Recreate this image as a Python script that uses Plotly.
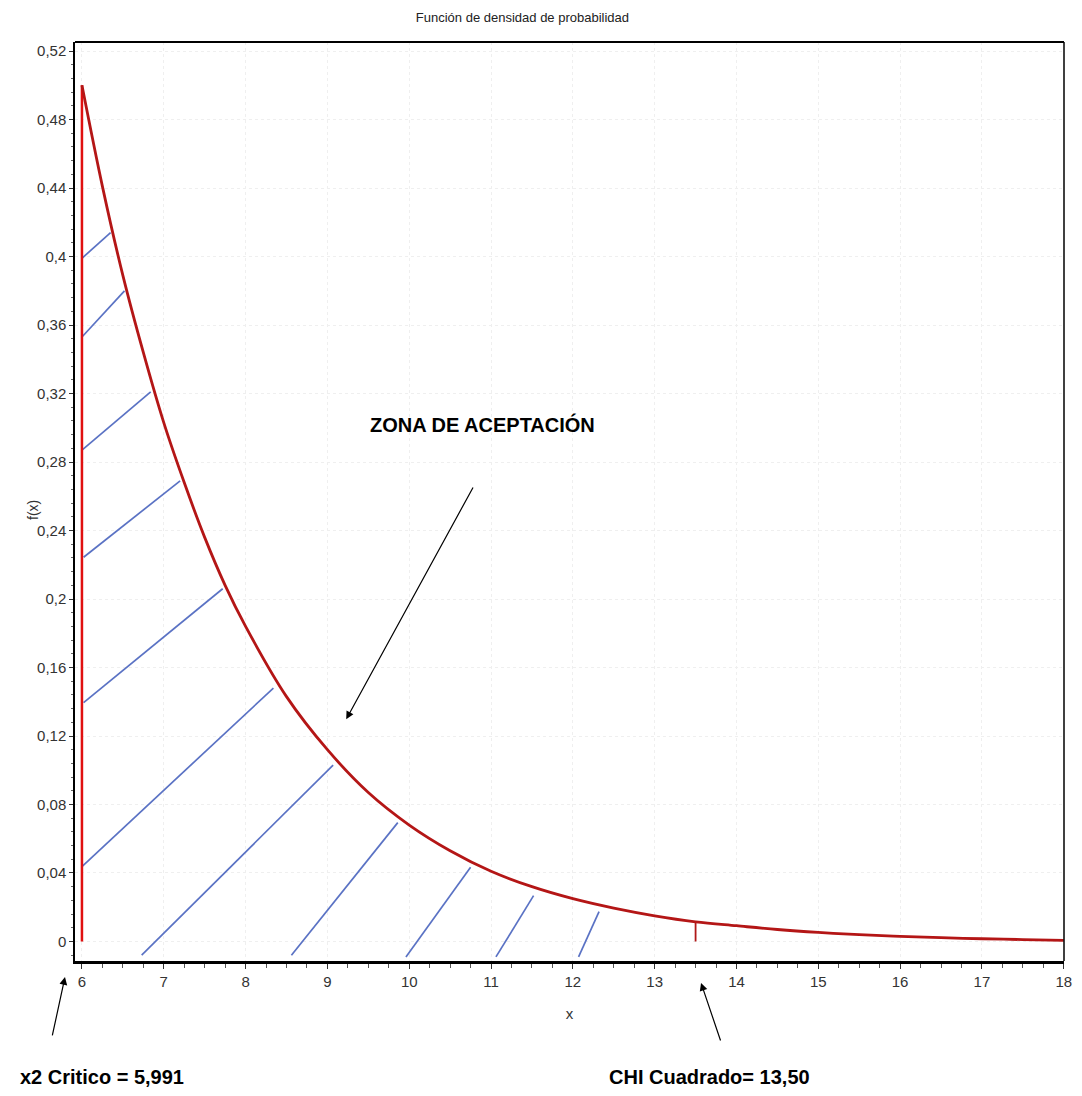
import plotly.graph_objects as go

# Density curve values
curve_x = [6.0, 6.25, 6.5, 6.75, 7.0, 7.25, 7.5, 7.75, 8.0, 8.5, 9.0, 9.5, 10.0, 10.5,
           11.0, 11.5, 12.0, 12.5, 13.0, 13.5, 14.0, 14.5, 15.0, 15.5, 16.0, 16.5,
           17.0, 17.5, 18.0]
curve_y = [0.500, 0.441, 0.389, 0.344, 0.303, 0.268, 0.236, 0.208, 0.184, 0.143, 0.112,
           0.087, 0.068, 0.053, 0.041, 0.032, 0.025, 0.0195, 0.0150, 0.0115, 0.0092,
           0.0070, 0.0053, 0.0040, 0.0030, 0.0022, 0.0016, 0.0011, 0.0007]

# Hatch segments (start -> end)
hatch_x0 = [6.0, 6.0, 6.0, 6.02, 6.02, 6.0, 6.73, 8.56, 9.96, 11.06, 12.07]
hatch_y0 = [0.399, 0.353, 0.287, 0.2244, 0.1395, 0.0437, -0.008, -0.008, -0.009, -0.009, -0.009]
hatch_x1 = [6.35, 6.52, 6.84, 7.20, 7.72, 8.34, 9.07, 9.86, 10.75, 11.52, 12.32]
hatch_y1 = [0.414, 0.380, 0.321, 0.269, 0.206, 0.148, 0.103, 0.0694, 0.0433, 0.0268, 0.0174]

# Critical value line and observed statistic marker
crit_x = [6.0, 6.0]
crit_y = [0.0, 0.500]
stat_x = [13.5, 13.5]
stat_y = [0.0, 0.0115]

y_ticks = [0, 0.04, 0.08, 0.12, 0.16, 0.2, 0.24, 0.28, 0.32, 0.36, 0.4, 0.44, 0.48, 0.52]
y_ticklabels = ["0", "0,04", "0,08", "0,12", "0,16", "0,2", "0,24", "0,28", "0,32",
                "0,36", "0,4", "0,44", "0,48", "0,52"]
x_ticks = list(range(6, 19))
x_ticklabels = [str(v) for v in x_ticks]

FONT = "Liberation Sans Narrow, Arial Narrow, Liberation Sans, Arial, sans-serif"

hx, hy = [], []
for a, b, c, d in zip(hatch_x0, hatch_y0, hatch_x1, hatch_y1):
    hx += [a, c, None]
    hy += [b, d, None]

fig = go.Figure()
fig.add_trace(go.Scatter(x=hx, y=hy, mode="lines",
                         line=dict(color="#5a72c4", width=1.7), hoverinfo="skip"))
fig.add_trace(go.Scatter(x=crit_x, y=crit_y, mode="lines",
                         line=dict(color="#e01010", width=2.5)))
fig.add_trace(go.Scatter(x=stat_x, y=stat_y, mode="lines",
                         line=dict(color="#b01818", width=1.8)))
fig.add_trace(go.Scatter(x=curve_x, y=curve_y, mode="lines", line_shape="spline",
                         line=dict(color="#b41616", width=2.8)))

fig.update_layout(
    width=1074, height=1080,
    margin=dict(l=67, r=10, t=34, b=127),
    paper_bgcolor="white", plot_bgcolor="white",
    showlegend=False,
    font=dict(family=FONT, color="#222222", size=14),
    title=dict(text="Función de densidad de probabilidad", x=0.479, xanchor="center",
               y=0.9917, yanchor="middle", font=dict(family=FONT, size=13, color="#222")),
)

fig.update_xaxes(
    range=[5.915, 18.003],
    tickvals=x_ticks, ticktext=x_ticklabels, ticklabeloverflow="allow",
    ticks="outside", ticklen=5, tickwidth=1, tickcolor="#333",
    minor=dict(dtick=0.25, tick0=6, ticks="outside", ticklen=4, tickcolor="#555"),
    showline=True, linecolor="black", linewidth=3,
    showgrid=True, gridcolor="#efefef", griddash="dot", zeroline=False,
    tickfont=dict(family=FONT, size=15, color="#333"),
    title=dict(text="x", font=dict(family=FONT, size=15, color="#333"), standoff=20),
)
fig.update_yaxes(
    range=[-0.0114, 0.5253],
    tickvals=y_ticks, ticktext=y_ticklabels,
    ticks="outside", ticklen=4, tickwidth=1, tickcolor="#333",
    minor=dict(dtick=0.008, tick0=0, ticks="outside", ticklen=2, tickcolor="#666"),
    showline=True, linecolor="black", linewidth=1.5,
    showgrid=True, gridcolor="#efefef", griddash="dot", zeroline=False,
    tickfont=dict(family=FONT, size=15, color="#333"),
)

# y axis title placed beside the tick labels
fig.add_annotation(x=-0.0423, y=0.491, xref="paper", yref="paper", text="f(x)",
                   textangle=-90, showarrow=False, xanchor="center", yanchor="middle",
                   font=dict(family=FONT, size=14, color="#333"))

# frame top and right
fig.add_shape(type="line", xref="paper", yref="paper", x0=0, x1=1, y0=1, y1=1,
              line=dict(color="black", width=2))
fig.add_shape(type="line", xref="paper", yref="paper", x0=1, x1=1, y0=0, y1=1,
              line=dict(color="black", width=1.5))

fig.add_annotation(x=9.23, y=0.1298, ax=10.79, ay=0.266, xref="x", yref="y",
                   axref="x", ayref="y", text="", showarrow=True,
                   arrowhead=2, arrowsize=1.3, arrowwidth=1.2, arrowcolor="black")
fig.add_annotation(x=10.9, y=0.302, xref="x", yref="y", text="<b>ZONA DE ACEPTACIÓN</b>",
                   showarrow=False, xanchor="center", yanchor="middle",
                   font=dict(family=FONT, size=20, color="black"))

fig.add_annotation(x=-0.0101, y=-0.0174, ax=-13, ay=60, xref="paper", yref="paper",
                   axref="pixel", ayref="pixel", text="", showarrow=True,
                   arrowhead=2, arrowsize=1.3, arrowwidth=1.2, arrowcolor="black")
fig.add_annotation(x=0.0272, y=-0.1262, xref="paper", yref="paper",
                   text="<b>x2 Critico = 5,991</b>", xanchor="center", yanchor="middle",
                   showarrow=False, font=dict(family=FONT, size=20, color="black"))

fig.add_annotation(x=0.633, y=-0.0239, ax=20, ay=59, xref="paper", yref="paper",
                   axref="pixel", ayref="pixel", text="", showarrow=True,
                   arrowhead=2, arrowsize=1.3, arrowwidth=1.2, arrowcolor="black")
fig.add_annotation(x=0.642, y=-0.1262, xref="paper", yref="paper",
                   text="<b>CHI Cuadrado= 13,50</b>", xanchor="center", yanchor="middle",
                   showarrow=False, font=dict(family=FONT, size=20, color="black"))

fig.write_html("out.html")
